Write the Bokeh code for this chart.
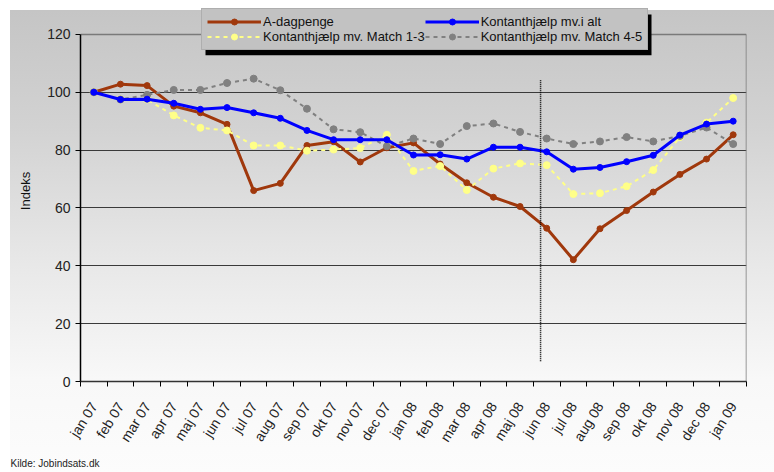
import math
from bokeh.plotting import figure
from bokeh.models import Range1d, FixedTicker, Legend, LegendItem, Title
from bokeh.embed import file_html
from bokeh.resources import INLINE

months = ["jan 07", "feb 07", "mar 07", "apr 07", "maj 07", "jun 07", "jul 07", "aug 07",
          "sep 07", "okt 07", "nov 07", "dec 07", "jan 08", "feb 08", "mar 08", "apr 08",
          "maj 08", "jun 08", "jul 08", "aug 08", "sep 08", "okt 08", "nov 08", "dec 08", "jan 09"]

a_dagpenge = [100, 102.8, 102.3, 95.2, 92.9, 88.9, 66.0, 68.5, 81.6, 82.9, 75.9, 80.8,
              82.5, 75.2, 68.7, 63.7, 60.5, 53.0, 42.1, 52.8, 59.1, 65.5, 71.6, 76.9, 85.3]
kontant_alt = [100, 97.5, 97.6, 96.2, 94.1, 94.7, 92.9, 91.0, 86.8, 83.6, 83.6, 83.6,
               78.3, 78.4, 76.9, 81.0, 81.0, 79.4, 73.4, 74.0, 76.0, 78.2, 85.2, 89.0, 90.0]
match_13 = [100, 97.6, 97.5, 92.0, 87.7, 86.8, 81.6, 81.6, 79.8, 80.2, 80.7, 85.3,
            72.8, 74.5, 66.2, 73.6, 75.4, 74.8, 64.8, 65.1, 67.5, 73.1, 84.5, 89.5, 98.0]
match_45 = [100, 97.5, 99.1, 100.8, 100.8, 103.2, 104.7, 100.7, 94.3, 87.2, 86.2, 81.3,
            84.0, 82.1, 88.3, 89.2, 86.3, 84.0, 82.1, 83.0, 84.5, 83.0, 84.9, 87.8, 82.1]

series_names = ["A-dagpenge", "Kontanthjælp mv.i alt",
                "Kontanthjælp mv. Match 1-3", "Kontanthjælp mv. Match 4-5"]
y_ticks = [0, 20, 40, 60, 80, 100, 120]
y_max = 120
source_text = "Kilde: Jobindsats.dk"

# vertical dotted marker (between maj 08 and jun 08)
marker_x = 16.77
marker_y = [7, 104.5]

FONT = "Liberation Sans"
xs = list(range(len(months)))
x_lo, x_hi = -0.5, len(months) - 0.5

W, H = 774, 472
frame_left, frame_right, frame_bottom = 80, 746, 382
px_per_unit = (frame_bottom - 34) / y_max          # 120 sits at y=34
y_top = frame_bottom / px_per_unit                  # frame reaches the top edge
px_per_x = (frame_right - frame_left) / (x_hi - x_lo)

def dx(px):
    return x_lo + (px - frame_left) / px_per_x

def dy(py):
    return (frame_bottom - py) / px_per_unit

# legend box (pixels) and its drop shadow
leg_left, leg_top, leg_right, leg_bottom = 201, 10, 647, 51
shadow_off = 4

p = figure(width=W, height=H, output_backend="svg", toolbar_location=None,
           x_range=Range1d(x_lo, x_hi), y_range=Range1d(0, y_top),
           min_border_left=frame_left, min_border_right=W - frame_right,
           min_border_top=0, min_border_bottom=H - frame_bottom)

p.background_fill_color = None
p.border_fill_color = None
p.styles = {"background": "linear-gradient(to bottom, #c5c5c5 0%, #d2d2d2 25%, #e8e8e8 55%, #f8f8f8 80%, #fcfcfc 100%) "
                          "10px 10px / calc(100% - 10px) calc(100% - 10px) no-repeat, #ffffff"}
p.outline_line_color = None

p.xgrid.visible = False
p.ygrid.grid_line_color = "#3a3a3a"
p.ygrid.grid_line_width = 1
p.ygrid.ticker = FixedTicker(ticks=y_ticks[1:-1])

# top and right plot-area borders
p.segment(x0=[x_lo, x_hi], y0=[y_max, 0], x1=[x_hi, x_hi], y1=[y_max, y_max],
          line_color="#7a7a7a", line_width=1.5)

# y axis
p.yaxis.ticker = FixedTicker(ticks=y_ticks)
p.yaxis.bounds = (0, y_max)
p.yaxis.axis_label = "Indeks"
p.yaxis.axis_label_text_font = FONT
p.yaxis.axis_label_text_font_size = "13px"
p.yaxis.axis_label_text_font_style = "normal"
p.yaxis.axis_label_text_color = "#111111"
p.yaxis.axis_label_standoff = 11
p.yaxis.major_label_text_font = FONT
p.yaxis.major_label_text_font_size = "14px"
p.yaxis.major_label_text_color = "#222222"
p.yaxis.major_tick_out = 5
p.yaxis.major_tick_in = 0
p.yaxis.minor_tick_line_color = None
p.yaxis.axis_line_color = "black"
p.yaxis.axis_line_width = 1.5
p.yaxis.major_tick_line_color = "black"

# x axis
p.xaxis.ticker = FixedTicker(ticks=xs, minor_ticks=[i - 0.5 for i in range(len(months) + 1)])
p.xaxis.major_label_overrides = {i: m for i, m in enumerate(months)}
p.xaxis.major_label_orientation = math.radians(58)
p.xaxis.major_label_text_font = FONT
p.xaxis.major_label_text_font_size = "14px"
p.xaxis.major_label_text_color = "#222222"
p.xaxis.major_label_standoff = 16
p.xaxis.major_tick_line_color = None
p.xaxis.minor_tick_out = 5
p.xaxis.minor_tick_in = 0
p.xaxis.minor_tick_line_color = "black"
p.xaxis.axis_line_color = "#333333"
p.xaxis.axis_line_width = 1.5

# legend drop shadow
p.quad(left=[dx(leg_left + shadow_off)], right=[dx(leg_right + shadow_off)],
       top=[dy(leg_top + shadow_off)], bottom=[dy(leg_bottom + shadow_off)],
       fill_color="black", line_color=None)

# series
l1 = p.line(xs, a_dagpenge, line_color="#a0380c", line_width=3)
s1 = p.scatter(xs, a_dagpenge, size=6, fill_color="#a0380c", line_color="#a0380c")

l3 = p.line(xs, match_13, line_color="#ffff88", line_width=2, line_dash="4 4")
s3 = p.scatter(xs, match_13, size=7, fill_color="#ffff88", line_color="#ffff88")

l4 = p.line(xs, match_45, line_color="#808080", line_width=2, line_dash="4 4")
s4 = p.scatter(xs, match_45, size=7, fill_color="#808080", line_color="#808080")

l2 = p.line(xs, kontant_alt, line_color="#0000ff", line_width=3)
s2 = p.scatter(xs, kontant_alt, size=6, fill_color="#0000ff", line_color="#0000ff")

p.segment(x0=[marker_x], y0=[marker_y[0]], x1=[marker_x], y1=[marker_y[1]],
          line_color="black", line_width=1.5, line_dash="1 1")

legend = Legend(items=[
    LegendItem(label=series_names[0], renderers=[l1, s1]),
    LegendItem(label=series_names[2], renderers=[l3, s3]),
    LegendItem(label=series_names[1], renderers=[l2, s2]),
    LegendItem(label=series_names[3], renderers=[l4, s4]),
], location=(leg_left - frame_left, frame_bottom - leg_bottom), orientation="vertical", nrows=2)
legend.background_fill_color = "#c2c2c2"
legend.background_fill_alpha = 1
legend.border_line_color = "#9a9a9a"
legend.border_line_width = 1
legend.label_text_font = FONT
legend.label_text_font_size = "13px"
legend.label_text_color = "#111111"
legend.glyph_width = 54
legend.glyph_height = 15
legend.label_height = 15
legend.label_width = 160
legend.label_standoff = 2
legend.spacing = 0
legend.padding = 5
legend.margin = 0
p.add_layout(legend, "center")

src = Title(text=source_text, align="left", text_font=FONT, text_font_size="10px",
            text_font_style="normal", text_color="#222222", offset=-70)
if "standoff" in src.properties():
    src.standoff = 8
p.add_layout(src, "below")

open("out.html", "w").write(file_html(p, INLINE))
